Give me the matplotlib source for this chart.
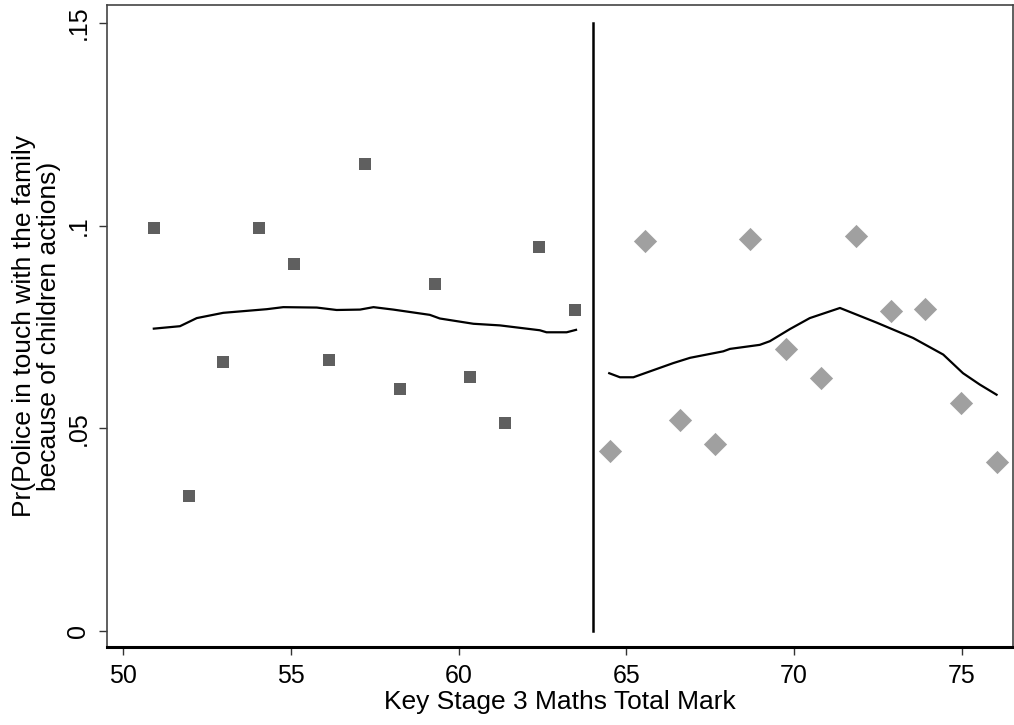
import matplotlib
matplotlib.use("Agg")
import matplotlib.pyplot as plt

# binned means, below the 64-mark threshold
left_x = [50.91, 51.95, 52.98, 54.04, 55.08, 56.12, 57.21, 58.24, 59.29, 60.33, 61.37, 62.40, 63.46]
left_y = [0.0995, 0.0332, 0.0664, 0.0995, 0.0906, 0.0669, 0.1153, 0.0598, 0.0857, 0.0626, 0.0514, 0.0947, 0.0791]

# binned means, at or above the threshold
right_x = [64.51, 65.55, 66.60, 67.64, 68.68, 69.76, 70.80, 71.85, 72.89, 73.92, 74.97, 76.05]
right_y = [0.0445, 0.0963, 0.0521, 0.0461, 0.0967, 0.0696, 0.0624, 0.0974, 0.0790, 0.0794, 0.0562, 0.0417]

# local smooth, each side
fit_l_x = [50.91, 51.69, 52.19, 52.98, 54.28, 54.77, 55.77, 56.36, 57.06, 57.46, 58.05,
           59.14, 59.44, 60.44, 61.23, 62.42, 62.62, 63.22, 63.50]
fit_l_y = [0.0746, 0.0752, 0.0772, 0.0785, 0.0794, 0.0799, 0.0798, 0.0792, 0.0793, 0.0799, 0.0793,
           0.0780, 0.0771, 0.0758, 0.0754, 0.0742, 0.0737, 0.0737, 0.0743]
fit_r_x = [64.49, 64.81, 65.21, 66.40, 66.90, 67.89, 68.09, 68.98, 69.28, 69.88, 70.47,
           71.37, 72.46, 73.55, 74.45, 75.04, 75.54, 76.04]
fit_r_y = [0.0636, 0.0626, 0.0626, 0.0661, 0.0674, 0.0690, 0.0696, 0.0706, 0.0715, 0.0745, 0.0772,
           0.0797, 0.0761, 0.0723, 0.0682, 0.0636, 0.0608, 0.0583]

cutoff = 64
x_ticks = [50, 55, 60, 65, 70, 75]
y_ticks = [0, 0.05, 0.1, 0.15]
y_labels = ["0", ".05", ".1", ".15"]

plt.rcParams.update({
    "font.family": ["Liberation Sans", "DejaVu Sans"],
    "font.size": 18,
})

fig = plt.figure(figsize=(10.14, 7.25), dpi=100)
ax = fig.add_axes([107 / 1014, 78 / 725, 906 / 1014, 642 / 725])

ax.scatter(left_x, left_y, marker="s", s=78, color="#5f5f5f", linewidths=0, zorder=3)
ax.scatter(right_x, right_y, marker="D", s=140, color="#a0a0a0", linewidths=0, zorder=3)
ax.plot(fit_l_x, fit_l_y, color="black", lw=1.6, zorder=4)
ax.plot(fit_r_x, fit_r_y, color="black", lw=1.6, zorder=4)
ax.plot([cutoff, cutoff], [0, 0.15], color="black", lw=1.8, zorder=4)

ax.set_xlim(49.514, 76.53)
ax.set_ylim(-0.00395, 0.15445)
ax.set_xticks(x_ticks)
ax.set_xticklabels([str(t) for t in x_ticks])
ax.set_yticks(y_ticks)
ax.set_yticklabels(y_labels, rotation=90, va="center")
ax.tick_params(length=6, width=1, color="#333333", pad=6)

for s in ("left", "top", "right"):
    ax.spines[s].set_linewidth(1.2)
    ax.spines[s].set_color("#444444")
ax.spines["bottom"].set_linewidth(2.2)
ax.spines["bottom"].set_color("black")

ax.set_xlabel("Key Stage 3 Maths Total Mark", fontsize=19, labelpad=2)
ax.set_ylabel("Pr(Police in touch with the family\nbecause of children actions)",
              fontsize=19, linespacing=1.05, labelpad=4)

fig.savefig("out.png", dpi=100)
